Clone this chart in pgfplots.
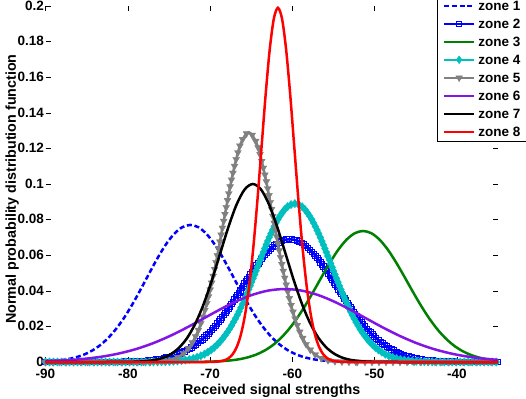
\documentclass[border=0pt]{standalone}
\usepackage{fontspec}
\setmainfont{Liberation Sans}
\usepackage{pgfplots}
\pgfplotsset{compat=1.18}
\usetikzlibrary{decorations.markings, shapes.geometric}

\definecolor{zblue}{RGB}{0,0,255}
\definecolor{zgreen}{RGB}{0,128,0}
\definecolor{zcyan}{RGB}{0,191,191}
\definecolor{zgray}{RGB}{128,128,128}
\definecolor{zpurple}{RGB}{130,20,230}
\definecolor{zred}{RGB}{255,0,0}

\newcommand{\tickfont}{\fontsize{13.5}{16}\selectfont\bfseries}
\newcommand{\labelfont}{\fontsize{14.3}{17}\selectfont\bfseries}

\pgfplotsset{
  zplot/.style={line width=2.5pt, smooth, forget plot},
}

\begin{document}
\begin{tikzpicture}
\begin{axis}[
  scale only axis,
  width=452.5pt, height=356pt,
  xmin=-90, xmax=-35, ymin=0, ymax=0.2,
  xtick={-90,-80,-70,-60,-50,-40},
  xticklabels={-90,-80,-70,-60,-50,-40},
  ytick={0,0.02,0.04,0.06,0.08,0.1,0.12,0.14,0.16,0.18,0.2},
  yticklabels={0,0.02,0.04,0.06,0.08,0.1,0.12,0.14,0.16,0.18,0.2},
  axis line style={draw=none},
  tick align=inside,
  major tick length=5pt,
  tick style={black, line width=0.5pt},
  ticklabel style={font=\tickfont, inner sep=0pt},
  xticklabel style={anchor=base, yshift=-16.8pt},
  yticklabel style={anchor=east, xshift=-1.5pt, yshift=0.4pt},
  xlabel={Received signal strengths},
  ylabel={Normal probability distribution function},
  xlabel style={font=\labelfont, at={(axis description cs:0.5,-0.0899)}, anchor=base},
  ylabel style={font=\labelfont, at={(axis description cs:-0.0652,0.486)}, anchor=base},
  clip=false,
  legend cell align=left,
  legend image code/.code={\draw[mark repeat=2,mark phase=2,#1] plot coordinates {(0pt,0pt) (15pt,0pt) (30pt,0pt)};},
  legend style={at={(axis description cs:0.8652,0.6175)}, anchor=south west,
    draw=black, line width=0.8pt, fill=white, inner xsep=5.5pt, inner ysep=1pt,
    row sep=0pt, column sep=3pt, font=\tickfont,
    nodes={inner sep=0pt, text height=14pt, text depth=4pt}},
]

% zone 1
\addplot[zplot, zblue, dash pattern=on 5pt off 2.7pt] coordinates {
(-90,0.00034)(-89.4,0.00049)(-88.4,0.00088)(-87.4,0.00151)(-86.4,0.00251)(-85.4,0.00402)
(-84.4,0.00622)(-83.4,0.00930)(-82.4,0.01342)(-81.4,0.01871)(-80.4,0.02518)(-79.4,0.03272)
(-78.4,0.04106)(-77.4,0.04975)(-76.4,0.05823)(-75.4,0.06580)(-74.4,0.07180)(-73.4,0.07567)
(-72.4,0.07700)(-71.4,0.07567)(-70.4,0.07180)(-69.4,0.06580)(-68.4,0.05823)(-67.4,0.04975)
(-66.4,0.04106)(-65.4,0.03272)(-64.4,0.02518)(-63.4,0.01871)(-62.4,0.01342)(-61.4,0.00930)
(-60.4,0.00622)(-59.4,0.00402)(-58.4,0.00251)(-57.4,0.00151)(-56.4,0.00088)(-55.4,0.00049)
(-54.4,0.00027)(-53.4,0.00014)(-52.4,0.00007)(-51.4,0.00003)(-50.4,0)(-35,0)
};

% zone 2
\addplot[zplot, zblue, postaction={decorate}, decoration={markings,
  mark=between positions 0 and 1 step 2.7pt with {\node[rectangle, draw=zblue, solid, line width=1pt, minimum size=5.5pt, inner sep=0pt] {};}}] coordinates {
(-90,0)(-85.3,0.00001)(-84.3,0.00001)(-83.3,0.000025)(-82.3,0.00005)(-81.3,0.00009)
(-80.3,0.00017)(-79.3,0.00031)(-78.3,0.00054)(-77.3,0.00091)(-76.3,0.00150)(-75.3,0.00238)
(-74.3,0.00367)(-73.3,0.00550)(-72.3,0.00800)(-71.3,0.01128)(-70.3,0.01545)(-69.3,0.02053)
(-68.3,0.02648)(-67.3,0.03314)(-66.3,0.04026)(-65.3,0.04746)(-64.3,0.05431)(-63.3,0.06031)
(-62.3,0.06499)(-61.3,0.06798)(-60.3,0.06900)(-59.3,0.06798)(-58.3,0.06499)(-57.3,0.06031)
(-56.3,0.05431)(-55.3,0.04746)(-54.3,0.04026)(-53.3,0.03314)(-52.3,0.02648)(-51.3,0.02053)
(-50.3,0.01545)(-49.3,0.01128)(-48.3,0.00800)(-47.3,0.00550)(-46.3,0.00367)(-45.3,0.00238)
(-44.3,0.00150)(-43.3,0.00091)(-42.3,0.00054)(-41.3,0.00031)(-40.3,0.00017)(-39.3,0.00009)
(-38.3,0.00005)(-37.3,0.000025)(-36.3,0.00001)(-35,0)
};

% zone 3
\addplot[zplot, zgreen] coordinates {
(-90,0)(-74.4,0)(-73.4,0.00002)(-72.4,0.00004)(-71.4,0.00008)(-70.4,0.00016)(-69.4,0.00030)
(-68.4,0.00054)(-67.4,0.00094)(-66.4,0.00160)(-65.4,0.00262)(-64.4,0.00415)(-63.4,0.00635)
(-62.4,0.00938)(-61.4,0.01342)(-60.4,0.01854)(-59.4,0.02476)(-58.4,0.03196)(-57.4,0.03988)
(-56.4,0.04809)(-55.4,0.05605)(-54.4,0.06315)(-53.4,0.06876)(-52.4,0.07236)(-51.4,0.07360)
(-50.4,0.07236)(-49.4,0.06876)(-48.4,0.06315)(-47.4,0.05605)(-46.4,0.04809)(-45.4,0.03988)
(-44.4,0.03196)(-43.4,0.02476)(-42.4,0.01854)(-41.4,0.01342)(-40.4,0.00938)(-39.4,0.00635)
(-38.4,0.00415)(-37.4,0.00262)(-36.4,0.00160)(-35.4,0.00094)(-35,0.00076)
};

% zone 4
\addplot[zplot, zcyan, postaction={decorate}, decoration={markings,
  mark=between positions 0 and 1 step 4pt with {\node[diamond, fill=zcyan, draw=zcyan, solid, line width=0.3pt, minimum width=7pt, minimum height=8.5pt, inner sep=0pt] {};}}] coordinates {
(-90,0)(-79.7,0)(-78.7,0.00001)(-77.7,0.00003)(-76.7,0.00007)(-75.7,0.00015)(-74.7,0.00033)
(-73.7,0.00067)(-72.7,0.00132)(-71.7,0.00246)(-70.7,0.00437)(-69.7,0.00737)(-68.7,0.01183)
(-67.7,0.01807)(-66.7,0.02626)(-65.7,0.03630)(-64.7,0.04774)(-63.7,0.05974)(-62.7,0.07112)
(-61.7,0.08056)(-60.7,0.08681)(-59.7,0.08900)(-58.7,0.08681)(-57.7,0.08056)(-56.7,0.07112)
(-55.7,0.05974)(-54.7,0.04774)(-53.7,0.03630)(-52.7,0.02626)(-51.7,0.01807)(-50.7,0.01183)
(-49.7,0.00737)(-48.7,0.00437)(-47.7,0.00246)(-46.7,0.00132)(-45.7,0.00067)(-44.7,0.00033)
(-43.7,0.00015)(-42.7,0.00007)(-41.7,0.00003)(-40.7,0.00001)(-39.7,0)(-35,0)
};

% zone 5
\addplot[zplot, zgray, postaction={decorate}, decoration={markings,
  mark=between positions 0 and 1 step 7pt with {\node[regular polygon, regular polygon sides=3, shape border rotate=180, fill=zgray, draw=zgray, solid, line width=0.3pt, minimum size=8pt, inner sep=0pt] {};}}] coordinates {
(-90,0)(-79.3,0)(-78.3,0.000017)(-77.3,0.000065)(-76.3,0.00022)(-75.3,0.00066)(-74.3,0.00180)
(-73.3,0.00442)(-72.3,0.00975)(-71.3,0.01934)(-70.3,0.03453)(-69.3,0.05550)(-68.3,0.08027)
(-67.3,0.10447)(-66.3,0.12238)(-65.3,0.12900)(-64.3,0.12238)(-63.3,0.10447)(-62.3,0.08027)
(-61.3,0.05550)(-60.3,0.03453)(-59.3,0.01934)(-58.3,0.00975)(-57.3,0.00442)(-56.3,0.00180)
(-55.3,0.00066)(-54.3,0.00022)(-53.3,0.000065)(-52.3,0.000017)(-51.3,0)(-35,0)
};

% zone 6
\addplot[zplot, zpurple] coordinates {
(-90,0.00047)(-88.9,0.00065)(-86.9,0.00115)(-84.9,0.00196)(-82.9,0.00318)(-80.9,0.00496)
(-78.9,0.00740)(-76.9,0.01060)(-74.9,0.01456)(-72.9,0.01916)(-70.9,0.02417)(-68.9,0.02924)
(-66.9,0.03390)(-64.9,0.03768)(-62.9,0.04014)(-60.9,0.04100)(-58.9,0.04014)(-56.9,0.03768)
(-54.9,0.03390)(-52.9,0.02924)(-50.9,0.02417)(-48.9,0.01916)(-46.9,0.01456)(-44.9,0.01060)
(-42.9,0.00740)(-40.9,0.00496)(-38.9,0.00318)(-36.9,0.00196)(-35,0.00119)
};

% zone 7
\addplot[zplot, black] coordinates {
(-90,0)(-82.8,0)(-81.8,0.000011)(-80.8,0.000032)(-79.8,0.000085)(-78.8,0.00021)(-77.8,0.00050)
(-76.8,0.00109)(-75.8,0.00224)(-74.8,0.00433)(-73.8,0.00786)(-72.8,0.01340)(-71.8,0.02146)
(-70.8,0.03228)(-69.8,0.04560)(-68.8,0.06050)(-67.8,0.07538)(-66.8,0.08819)(-65.8,0.09691)
(-64.8,0.10000)(-63.8,0.09691)(-62.8,0.08819)(-61.8,0.07538)(-60.8,0.06050)(-59.8,0.04560)
(-58.8,0.03228)(-57.8,0.02146)(-56.8,0.01340)(-55.8,0.00786)(-54.8,0.00433)(-53.8,0.00224)
(-52.8,0.00109)(-51.8,0.00050)(-50.8,0.00021)(-49.8,0.000085)(-48.8,0.000032)(-47.8,0.000011)
(-46.8,0)(-35,0)
};

% zone 8
\addplot[zplot, zred] coordinates {
(-90,0)(-71.75,0)(-70.75,0.000007)(-69.75,0.00006)(-69.25,0.00016)(-68.75,0.00041)
(-68.25,0.00096)(-67.75,0.00211)(-67.25,0.00437)(-66.75,0.00847)(-66.25,0.01543)
(-65.75,0.02639)(-65.25,0.04238)(-64.75,0.06388)(-64.25,0.09039)(-63.75,0.12009)
(-63.25,0.14979)(-62.75,0.17540)(-62.25,0.19282)(-61.75,0.19900)(-61.25,0.19282)
(-60.75,0.17540)(-60.25,0.14979)(-59.75,0.12009)(-59.25,0.09039)(-58.75,0.06388)
(-58.25,0.04238)(-57.75,0.02639)(-57.25,0.01543)(-56.75,0.00847)(-56.25,0.00437)
(-55.75,0.00211)(-55.25,0.00096)(-54.75,0.00041)(-54.25,0.00016)(-53.75,0.00006)
(-52.75,0.000007)(-51.75,0)(-35,0)
};

\addlegendimage{zblue, line width=2.5pt, dash pattern=on 5pt off 2.7pt}
\addlegendimage{zblue, line width=2.5pt, mark=square, mark size=2.5pt, mark options={solid, line width=1pt}}
\addlegendimage{zgreen, line width=2.5pt}
\addlegendimage{zcyan, line width=2.5pt, mark=diamond*, mark size=3.8pt, mark options={solid, line width=0.5pt}}
\addlegendimage{zgray, line width=2.5pt, mark=triangle*, mark size=3.8pt, mark options={solid, rotate=180, line width=0.5pt}}
\addlegendimage{zpurple, line width=2.5pt}
\addlegendimage{black, line width=2.5pt}
\addlegendimage{zred, line width=2.5pt}
\legend{zone 1,zone 2,zone 3,zone 4,zone 5,zone 6,zone 7,zone 8}

\end{axis}
\pgfresetboundingbox
\path ([xshift=-45.5pt,yshift=-36pt]current axis.south west) rectangle ([xshift=28pt,yshift=6pt]current axis.north east);
\end{tikzpicture}
\end{document}
